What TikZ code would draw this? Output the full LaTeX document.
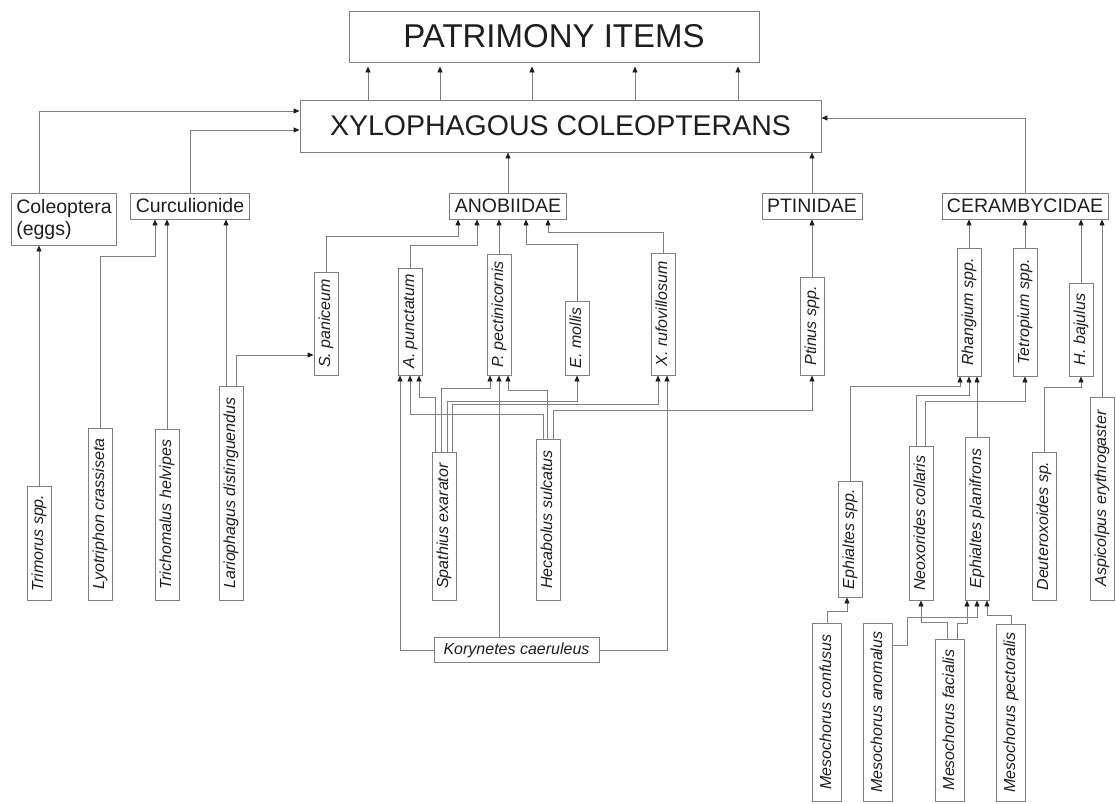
\documentclass[tikz,border=0pt]{standalone}
\usepackage{fontspec}
\setmainfont{Liberation Sans}
\usetikzlibrary{arrows.meta,calc}
\definecolor{linegray}{RGB}{128,128,128}
\definecolor{inkdark}{RGB}{30,30,30}
\newcommand{\famfont}{\fontsize{19.5}{22}\selectfont}
\newcommand{\spfont}{\fontsize{16}{18}\selectfont\itshape}

\begin{document}
\begin{tikzpicture}[x=1pt,y=-1pt,>={Triangle[length=6pt,width=5pt,color=inkdark]},
  every node/.style={text=inkdark},
  headbox/.style={draw=linegray,line width=0.9pt,inner sep=0pt},
  fambox/.style={draw=linegray,line width=0.9pt,font=\famfont,inner xsep=5pt,
                 inner ysep=0pt,minimum height=26pt},
  spbox/.style={draw=linegray,line width=0.9pt,font=\spfont,rotate=90,inner xsep=3pt,
                inner ysep=0pt,text height=11.5pt,text depth=3.5pt,minimum height=24pt},
  mesobox/.style={spbox,minimum height=29pt},
  hbox/.style={draw=linegray,line width=0.9pt,font=\spfont,inner xsep=4pt,inner ysep=0pt,
               text height=11.5pt,text depth=3.5pt,minimum height=25pt},
  link/.style={draw=linegray,line width=0.9pt,->}]
\useasboundingbox (0,0) rectangle (1116,803);
% ================= TOP =================
\node[headbox,minimum width=410pt,minimum height=51pt,font=\fontsize{33}{36}\selectfont]
  (patr) at (554,36.5) {PATRIMONY ITEMS};
\node[headbox,minimum width=521pt,minimum height=52pt,font=\fontsize{28.5}{32}\selectfont]
  (xylo) at (560.5,126) {XYLOPHAGOUS COLEOPTERANS};
\foreach \x in {368,440,532,635,738}
  \draw[link,shorten >=4pt] (\x,0 |- xylo.north) -- (\x,0 |- patr.south);
% families
\node[fambox,align=left,minimum height=52pt] (coleo) at (64,219) {Coleoptera\\(eggs)};
\node[fambox] (curc) at (190,206) {Curculionide};
\node[fambox] (anob) at (508,206) {ANOBIIDAE};
\node[fambox] (ptinid) at (812,206) {PTINIDAE};
\node[fambox] (ceram) at (1025,206) {CERAMBYCIDAE};
\draw[link] (coleo.north -| 39,0) |- ($(xylo.west)+(0,-15)$);
\draw[link] (curc.north) |- ($(xylo.west)+(0,4)$);
\draw[link] (anob.north) -- (anob.north |- xylo.south);
\draw[link] (ptinid.north) -- (ptinid.north |- xylo.south);
\draw[link] (ceram.north) |- ($(xylo.east)+(0,-8)$);
% ================= MIDDLE: Anobiidae =================
\node[spbox,minimum width=103pt] (spani) at (326,323.5) {S. paniceum};
\node[spbox,minimum width=107pt] (apunc) at (410,321.5) {A. punctatum};
\node[spbox,minimum width=121pt] (ppect) at (499,314.5) {P. pectinicornis};
\node[spbox,minimum width=74pt] (emoll) at (577,338) {E. mollis};
\node[spbox,minimum width=122pt] (xrufo) at (663,314) {X. rufovillosum};
\node[spbox,minimum width=98pt] (ptin) at (812,326) {Ptinus spp.};
\draw[link] (spani.east) -- ++(0,-35) -| ($(anob.south)+(-50,0)$);
\draw[link] (apunc.east) -- ++(0,-22) -| ($(anob.south)+(-31,0)$);
\draw[link] (ppect.east) -- ($(anob.south)+(-9,0)$);
\draw[link] (emoll.east) -- ++(0,-56) -| ($(anob.south)+(18,0)$);
\draw[link] (xrufo.east) -- ++(0,-20) -| ($(anob.south)+(40,0)$);
\draw[link] (ptin.east) -- (ptinid.south);
% ================= LEFT =================
\node[spbox,minimum width=114pt] (trim) at (39,543) {Trimorus spp.};
\node[spbox,minimum width=172pt] (lyot) at (100,514) {Lyotriphon crassiseta};
\node[spbox,minimum width=171pt] (trich) at (167,514.5) {Trichomalus helvipes};
\node[spbox,minimum width=214pt] (lario) at (231,493) {Lariophagus distinguendus};
\draw[link] (trim.east) -- (trim.east |- coleo.south);
\draw[link] (lyot.east) -- ++(0,-171) -| ($(curc.south)+(-35,0)$);
\draw[link] (trich.east) -- ($(curc.south)+(-23,0)$);
\draw[link] ($(lario.east)+(-5,0)$) -- ($(curc.south)+(36,0)$);
\draw[link] ($(lario.east)+(5,0)$) |- ($(spani.north)+(0,31.5)$);
% parasitoids and predator
\node[spbox,minimum width=148pt] (spath) at (444,526) {Spathius exarator};
\node[spbox,minimum width=161pt] (hecab) at (548,519.5) {Hecabolus sulcatus};
\node[hbox,minimum width=165pt] (koryn) at (516.5,650) {Korynetes caeruleus};
\draw[link] ($(spath.east)+(-9,0)$) -- ++(0,-54) -| ($(apunc.west)+(9,0)$);
\draw[link] ($(spath.east)+(-3,0)$) -- ++(0,-63) -| ($(ppect.west)+(-9,0)$);
\draw[link] ($(spath.east)+(3,0)$) -- ++(0,-50) -| (emoll.west);
\draw[link] ($(spath.east)+(8,0)$) -- ++(0,-47) -| ($(xrufo.west)+(-5,0)$);
\draw[link] ($(hecab.east)+(-5,0)$) -- ++(0,-24) -| (apunc.west);
\draw[link] ($(hecab.east)+(-1,0)$) -- ++(0,-48) -| ($(ppect.west)+(9,0)$);
\draw[link] ($(hecab.east)+(5,0)$) -- ++(0,-28) -| (ptin.west);
\draw[link] (koryn.west) -| ($(apunc.west)+(-10,0)$);
\draw[link] ($(koryn.north)+(-17.5,0)$) -- (ppect.west);
\draw[link] (koryn.east) -| ($(xrufo.west)+(4,0)$);
% ================= RIGHT: Cerambycidae =================
\node[spbox,minimum width=128pt] (rhang) at (969,312) {Rhangium spp.};
\node[spbox,minimum width=128pt] (tetro) at (1025,312) {Tetropium spp.};
\node[spbox,minimum width=93pt] (hbaj) at (1081,329.5) {H. bajulus};
\node[spbox,minimum width=203pt] (aspic) at (1102,498.5) {Aspicolpus erythrogaster};
\draw[link] (rhang.east) -- ($(ceram.south)+(-56,0)$);
\draw[link] (tetro.east) -- (ceram.south);
\draw[link] (hbaj.east) -- ($(ceram.south)+(56,0)$);
\draw[link] (aspic.east) -- ($(ceram.south)+(77,0)$);
% parasitoids
\node[spbox,minimum width=116pt] (ephsp) at (850,539) {Ephialtes spp.};
\node[spbox,minimum width=154pt] (neox) at (921,523) {Neoxorides collaris};
\node[spbox,minimum width=163pt] (eplan) at (977,518.5) {Ephialtes planifrons};
\node[spbox,minimum width=148pt] (deut) at (1044,526) {Deuteroxoides sp.};
\draw[link] (ephsp.east) -- ++(0,-94) -| ($(rhang.west)+(-9,0)$);
\draw[link] ($(neox.east)+(-4.5,0)$) -- ++(0,-50) -| (rhang.west);
\draw[link] ($(neox.east)+(4.5,0)$) -- ++(0,-44) -| (tetro.west);
\draw[link] (eplan.east) -- ($(rhang.west)+(8,0)$);
\draw[link] (deut.east) -- ++(0,-64) -| (hbaj.west);
% hyperparasitoids
\node[mesobox,minimum width=178pt] (mconf) at (827,712) {Mesochorus confusus};
\node[mesobox,minimum width=178pt] (manom) at (878,712) {Mesochorus anomalus};
\node[mesobox,minimum width=162pt] (mfac) at (950,720) {Mesochorus facialis};
\node[mesobox,minimum width=177pt] (mpect) at (1011,712.5) {Mesochorus pectoralis};
\draw[link] (mconf.east) -- ++(0,-11) -| ($(ephsp.west)+(-3,0)$);
\draw[link] ($(manom.south)+(0,-67)$) -- ++(14,0) -- ++(0,-28) -| (eplan.west);
\draw[link] ($(mfac.east)+(-3,0)$) -- ++(0,-16) -| (neox.west);
\draw[link] ($(mfac.east)+(7,0)$) -- ++(0,-15) -| ($(eplan.west)+(-10,0)$);
\draw[link] (mpect.east) -- ++(0,-8) -| ($(eplan.west)+(10,0)$);
\end{tikzpicture}
\end{document}
